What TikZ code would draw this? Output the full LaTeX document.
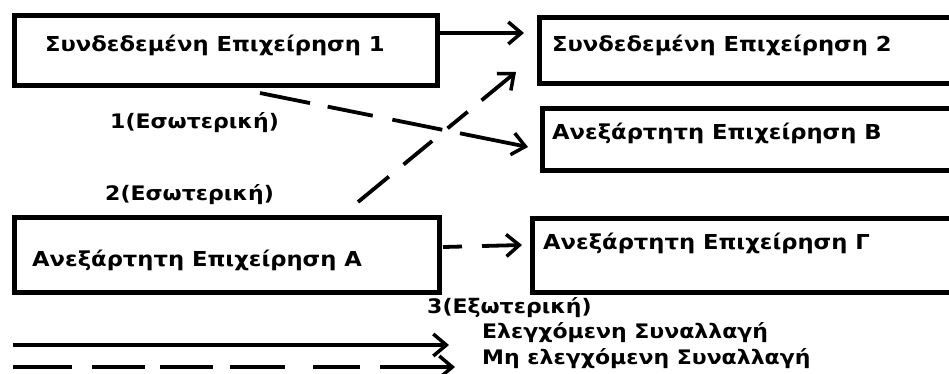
\documentclass[tikz,border=0pt]{standalone}
\usepackage{fontspec}
\setmainfont{DejaVu Sans}[FakeStretch=1.1]
\usetikzlibrary{arrows.meta,calc}
\begin{document}
\begin{tikzpicture}[x=1pt,y=-1pt,
  box/.style={draw=black,line width=4.5pt,rectangle,inner sep=0pt},
  txt/.style={anchor=west,inner sep=0pt,font=\fontsize{20}{24}\selectfont\bfseries},
  btxt/.style={txt,font=\fontsize{20.6}{24}\selectfont\bfseries},
  conn/.style={line width=3.8pt,-{Straight Barb[length=13pt,width=22pt,line width=3.5pt]}}]
\clip (0,0) rectangle (949,373);
\fill[white] (0,0) rectangle (949,373);
% boxes
\node[box,minimum width=423pt,minimum height=70pt,anchor=north west] (s1) at (12,13) {};
\node[box,minimum width=423pt,minimum height=66pt,anchor=north west] (s2) at (537,15) {};
\node[box,minimum width=420pt,minimum height=62pt,anchor=north west] (b) at (540,106) {};
\node[box,minimum width=425pt,minimum height=75pt,anchor=north west] (a) at (12,215) {};
\node[box,minimum width=430pt,minimum height=74pt,anchor=north west] (g) at (530,216) {};
% texts
\node[btxt] (ts1) at (45,45) {Συνδεδεμένη Επιχείρηση 1};
\node[btxt] (ts2) at (552,45) {Συνδεδεμένη Επιχείρηση 2};
\node[btxt] (tb) at (552,133) {Ανεξάρτητη Επιχείρηση Β};
\node[btxt] (ta) at (32,260) {Ανεξάρτητη Επιχείρηση Α};
\node[btxt] (tg) at (543,243) {Ανεξάρτητη Επιχείρηση Γ};
\node[txt] (l1) at (110,123) {1(Εσωτερική)};
\node[txt] (l2) at (105,195) {2(Εσωτερική)};
\node[txt] (l3) at (427,308) {3(Εξωτερική)};
\node[txt] (lg1) at (482,333) {Ελεγχόμενη Συναλλαγή};
\node[txt] (lg2) at (482,359) {Μη ελεγχόμενη Συναλλαγή};
% connector end points
\coordinate (c1s) at (437,33);
\coordinate (c1e) at (524,33);
\coordinate (d1s) at (260,93);
\coordinate (d1e) at (528,147);
\coordinate (d2s) at (358,202);
\coordinate (d2e) at (516,72);
\coordinate (d3s) at (443,247);
\coordinate (d3e) at (522,245);
\coordinate (ls1) at (13,345);
\coordinate (le1) at (449,345);
\coordinate (ls2) at (13,367);
\coordinate (le2) at (455,367);
% connectors
\draw[conn] (c1s) -- (c1e);
\draw[conn,dash pattern=on 51pt off 18pt on 46pt off 20pt on 51pt off 18pt on 90pt] (d1s) -- (d1e);
\draw[conn,dash pattern=on 40pt off 19pt on 37pt off 20pt on 26pt off 18pt on 60pt] (d2s) -- (d2e);
\draw[conn,dash pattern=on 19pt off 20pt on 60pt] (d3s) -- (d3e);
\draw[conn] (ls1) -- (le1);
\draw[conn,dash pattern=on 59pt off 20pt on 53pt off 15pt on 53pt off 17pt on 55pt off 28pt on 47pt off 20pt on 90pt] (ls2) -- (le2);
\end{tikzpicture}
\end{document}
